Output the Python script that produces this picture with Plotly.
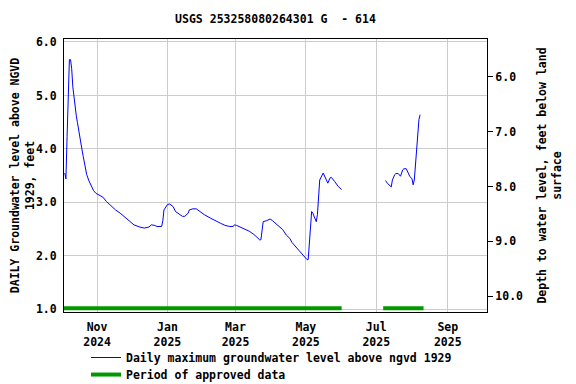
import plotly.graph_objects as go

# Daily maximum groundwater level above NGVD 1929 (feet)
dates = [
    "2024-10-04", "2024-10-05", "2024-10-06", "2024-10-07", "2024-10-08", "2024-10-09",
    "2024-10-10", "2024-10-11", "2024-10-12", "2024-10-13", "2024-10-14", "2024-10-15",
    "2024-10-16", "2024-10-17", "2024-10-18", "2024-10-19", "2024-10-20", "2024-10-21",
    "2024-10-22", "2024-10-23", "2024-10-25", "2024-10-27", "2024-10-29", "2024-10-31",
    "2024-11-03", "2024-11-06", "2024-11-09", "2024-11-12", "2024-11-14", "2024-11-17",
    "2024-11-21", "2024-11-25", "2024-11-29", "2024-12-03", "2024-12-08", "2024-12-12",
    "2024-12-16", "2024-12-18", "2024-12-21", "2024-12-23", "2024-12-27", "2024-12-28",
    "2024-12-29", "2025-01-01", "2025-01-03", "2025-01-06", "2025-01-08", "2025-01-12",
    "2025-01-14", "2025-01-16", "2025-01-19", "2025-01-20", "2025-01-23", "2025-01-26",
    "2025-01-29", "2025-02-02", "2025-02-07", "2025-02-11", "2025-02-16", "2025-02-20",
    "2025-02-24", "2025-02-27", "2025-02-28", "2025-03-02", "2025-03-05", "2025-03-09",
    "2025-03-13", "2025-03-17", "2025-03-20", "2025-03-22", "2025-03-23", "2025-03-24",
    "2025-03-25", "2025-03-28", "2025-03-31", "2025-04-02", "2025-04-05", "2025-04-08",
    "2025-04-11", "2025-04-14", "2025-04-17", "2025-04-19", "2025-04-23", "2025-04-26",
    "2025-04-28", "2025-04-30", "2025-05-02", "2025-05-03", "2025-05-04", "2025-05-05",
    "2025-05-06", "2025-05-07", "2025-05-09", "2025-05-10", "2025-05-11", "2025-05-12",
    "2025-05-13", "2025-05-16", "2025-05-17", "2025-05-20", "2025-05-22", "2025-05-23",
    "2025-05-26", "2025-05-29", "2025-06-01",
    "2025-06-15",
    "2025-07-09", "2025-07-11", "2025-07-14", "2025-07-15", "2025-07-17", "2025-07-18",
    "2025-07-20", "2025-07-22", "2025-07-24", "2025-07-25", "2025-07-27", "2025-07-29",
    "2025-07-30", "2025-08-01", "2025-08-02", "2025-08-03", "2025-08-04", "2025-08-05",
    "2025-08-06", "2025-08-07", "2025-08-08",
]
levels = [
    3.55, 3.44, 4.23, 5.24, 5.67, 5.67,
    5.50, 5.16, 4.95, 4.79, 4.62, 4.49,
    4.34, 4.23, 4.10, 3.98, 3.86, 3.74,
    3.62, 3.52, 3.40, 3.30, 3.22, 3.17,
    3.14, 3.10, 3.02, 2.96, 2.92, 2.86,
    2.80, 2.73, 2.66, 2.58, 2.54, 2.52,
    2.54, 2.58, 2.57, 2.55, 2.55, 2.66,
    2.86, 2.96, 2.97, 2.92, 2.83, 2.77,
    2.74, 2.74, 2.80, 2.86, 2.88, 2.88,
    2.83, 2.77, 2.71, 2.66, 2.61, 2.57,
    2.55, 2.55, 2.58, 2.57, 2.54, 2.49,
    2.46, 2.40, 2.34, 2.30, 2.30, 2.55,
    2.64, 2.66, 2.69, 2.66, 2.60, 2.55,
    2.49, 2.39, 2.33, 2.25, 2.15, 2.08,
    2.02, 1.96, 1.93, 1.93, 2.27, 2.68,
    2.83, 2.80, 2.71, 2.64, 2.77, 3.18,
    3.42, 3.55, 3.50, 3.36, 3.46, 3.47,
    3.39, 3.30, 3.24,
    None,
    3.41, 3.35, 3.29, 3.42, 3.52, 3.54,
    3.54, 3.49, 3.61, 3.63, 3.63, 3.52,
    3.49, 3.44, 3.33, 3.42, 3.70, 4.08,
    4.42, 4.55, 4.64,
]

# Periods of approved data
approved_start = ["2024-10-03", "2025-07-07"]
approved_end = ["2025-06-01", "2025-08-11"]
approved_level = 1.02

tick_dates = ["2024-11-01", "2025-01-01", "2025-03-01", "2025-05-01", "2025-07-01", "2025-09-01"]
tick_text = ["Nov<br>2024", "Jan<br>2025", "Mar<br>2025", "May<br>2025", "Jul<br>2025", "Sep<br>2025"]
left_ticks = [1.0, 2.0, 3.0, 4.0, 5.0, 6.0]
right_ticks = [6.0, 7.0, 8.0, 9.0, 10.0]

FONT = "DejaVu Sans Mono"
LFONT = dict(family=FONT, size=11.5, color="black", weight="bold")

bx, by = [], []
for s, e in zip(approved_start, approved_end):
    bx += [s, e, None]
    by += [approved_level, approved_level, None]

fig = go.Figure()
fig.add_trace(go.Scatter(
    x=dates, y=levels, mode="lines", connectgaps=False,
    line=dict(color="#0000ff", width=1), legend="legend",
    name="Daily maximum groundwater level above ngvd 1929",
))
fig.add_trace(go.Scatter(
    x=bx, y=by, mode="lines",
    line=dict(color="#009900", width=4), legend="legend2",
    name="Period of approved data",
))
fig.add_trace(go.Scatter(
    x=[None], y=[None], yaxis="y2", showlegend=False, hoverinfo="skip",
))

# The page body adds an 8 px offset; margins compensate for it.
fig.update_layout(
    width=576, height=384,
    margin=dict(l=56, r=97, t=31, b=80, autoexpand=False),
    paper_bgcolor="white", plot_bgcolor="white",
    font=dict(family=FONT, size=11.5, color="black", weight="bold"),
    title=dict(text="USGS 253258080264301 G  - 614", xref="paper", x=0.5,
               xanchor="center", y=0.971, yanchor="middle", automargin=False,
               font=LFONT),
    showlegend=True,
    legend=dict(x=0.052, xanchor="left", y=-0.1136, yanchor="top",
                orientation="v", bgcolor="rgba(0,0,0,0)", font=LFONT,
                itemwidth=30),
    legend2=dict(x=0.052, xanchor="left", y=-0.176, yanchor="top",
                 orientation="v", bgcolor="rgba(0,0,0,0)", font=LFONT,
                 itemwidth=30),
    xaxis=dict(
        type="date", range=["2024-10-03 08:00", "2025-10-05"],
        tickvals=tick_dates, ticktext=tick_text, ticks="", automargin=False,
        ticklabelstandoff=4,
        showgrid=True, gridcolor="#cccccc", gridwidth=1,
        showline=True, linecolor="black", linewidth=1, mirror=True,
        zeroline=False,
    ),
    yaxis=dict(
        range=[0.951, 6.056], tickvals=left_ticks, tickformat=".1f", ticks="",
        automargin=False, ticklabelstandoff=4,
        showgrid=True, gridcolor="#cccccc", gridwidth=1,
        showline=True, linecolor="black", linewidth=1, mirror=True,
        zeroline=False,
        title=dict(text="DAILY Groundwater level above NGVD<br>1929, feet",
                   standoff=6, font=LFONT),
    ),
    yaxis2=dict(
        overlaying="y", side="right", range=[10.29, 5.307], automargin=False,
        tickvals=right_ticks, tickformat=".1f", ticks="outside", ticklen=5,
        tickcolor="black", showgrid=False, zeroline=False, showline=False,
        title=dict(text="Depth to water level, feet below land<br>surface",
                   standoff=15, font=LFONT),
    ),
)

fig.write_html("out.html")
